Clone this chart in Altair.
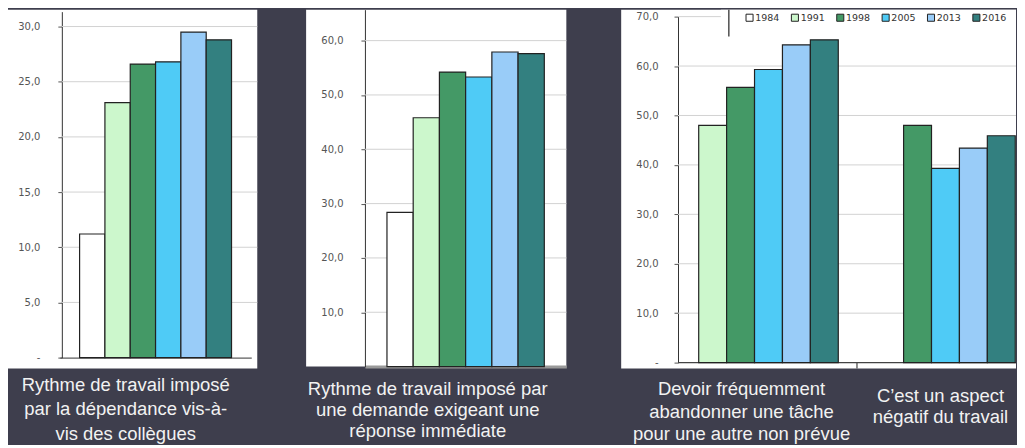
import altair as alt
import pandas as pd

# ---------------- data ----------------
years = ["1984", "1991", "1998", "2005", "2013", "2016"]
year_colors = ["#ffffff", "#ccf7cc", "#449966", "#4fcbf6", "#99ccf8", "#338080"]

p1_values = [11.2, 23.1, 26.6, 26.8, 29.5, 28.8]
p1_caption = ["Rythme de travail imposé", "par la dépendance vis-à-", "vis des collègues"]
p1_ticks = [0, 5, 10, 15, 20, 25, 30]

p2_values = [28.4, 45.8, 54.2, 53.3, 57.9, 57.6]
p2_caption = ["Rythme de travail imposé par", "une demande exigeant une", "réponse immédiate"]
p2_ticks = [10, 20, 30, 40, 50, 60]

p3_categories = ["abandon", "negatif"]
p3_captions = [
    ["Devoir fréquemment", "abandonner une tâche", "pour une autre non prévue"],
    ["C\u2019est un aspect", "négatif du travail"],
]
p3_years = ["1991", "1998", "2005", "2013", "2016"]
p3_abandon = [48.0, 55.7, 59.3, 64.3, 65.3]
p3_negatif = [None, 48.0, 39.3, 43.4, 45.9]
p3_ticks = [0, 10, 20, 30, 40, 50, 60, 70]

# ---------------- styles ----------------
LABEL_EXPR = "datum.value == 0 ? '-' : replace(format(datum.value, '.1f'), '.', ',')"
GRID_COLOR = "#d2d2d2"
BAR_STROKE = "#222222"
CAPTION = dict(font="Liberation Sans", fontSize=18.5, color="#f2f2f2",
               lineBreak="\n", align="center", baseline="alphabetic")

color_scale = alt.Scale(domain=years, range=year_colors)


def y_axis(ticks, axis_x, pad):
    return alt.Axis(values=ticks, labelExpr=LABEL_EXPR, grid=False, offset=-axis_x,
                    tickSize=4, tickColor="#555555", domainColor="#333333", domainWidth=1,
                    labelFont="DejaVu Sans", labelFontSize=10, labelColor="#555555",
                    labelPadding=pad, title=None)


def grid_layer(ticks, yscale, yaxis, x0, x1):
    gdf = pd.DataFrame({"value": [t for t in ticks if t != 0]})
    return alt.Chart(gdf).mark_rule(color=GRID_COLOR, strokeWidth=1).encode(
        y=alt.Y("value:Q", scale=yscale, axis=yaxis),
        x=alt.value(x0), x2=alt.value(x1))


def caption_layer(lines, cx, cy, lh):
    cdf = pd.DataFrame({"t": ["\n".join(lines)]})
    return alt.Chart(cdf).mark_text(lineHeight=lh, **CAPTION).encode(
        text="t:N", x=alt.value(cx), y=alt.value(cy))


# ---------------- panel 1 ----------------
W1, H1 = 250, 360
df1 = pd.DataFrame({"cat": ["c"] * 6, "year": years, "value": p1_values})
y1s = alt.Scale(domain=[0, 31.35], range=[349, 2], nice=False, zero=False)
y1a = y_axis(p1_ticks, 54, 18)
x1s = alt.Scale(range=[52, 244], paddingInner=0, paddingOuter=0.13)
bars1 = alt.Chart(df1).mark_bar(stroke=BAR_STROKE, strokeWidth=1.2).encode(
    x=alt.X("cat:N", scale=x1s, axis=alt.Axis(labels=False, ticks=False, title=None,
                                              domainColor="#333333", offset=-11)),
    xOffset=alt.XOffset("year:N", scale=alt.Scale(domain=years, paddingInner=0, paddingOuter=0)),
    y=alt.Y("value:Q", scale=y1s, axis=y1a),
    color=alt.Color("year:N", scale=color_scale, legend=None),
)
panel1 = alt.layer(
    grid_layer(p1_ticks, y1s, y1a, 54, W1),
    bars1,
    caption_layer(p1_caption, 118, 382, 25),
).properties(width=W1, height=H1)

# ---------------- panel 2 ----------------
W2, H2 = 261, 358
df2 = pd.DataFrame({"cat": ["c"] * 6, "year": years, "value": p2_values})
y2s = alt.Scale(domain=[0, 65.7], range=[358, 0], nice=False, zero=False)
y2a = y_axis(p2_ticks, 59, 18)
x2s = alt.Scale(range=[59, 261], paddingInner=0, paddingOuter=0.14)
bars2 = alt.Chart(df2).mark_bar(stroke=BAR_STROKE, strokeWidth=1.2).encode(
    x=alt.X("cat:N", scale=x2s, axis=alt.Axis(labels=False, ticks=False, title=None,
                                              domainColor="#999999", domainWidth=3)),
    xOffset=alt.XOffset("year:N", scale=alt.Scale(domain=years, paddingInner=0, paddingOuter=0)),
    y=alt.Y("value:Q", scale=y2s, axis=y2a),
    color=alt.Color("year:N", scale=color_scale, legend=None),
)
panel2 = alt.layer(
    grid_layer(p2_ticks, y2s, y2a, 59, W2),
    bars2,
    caption_layer(p2_caption, 122, 386, 21.5),
).properties(width=W2, height=H2)

# ---------------- panel 3 ----------------
W3, H3 = 396, 360
rows = []
for cat, vals in zip(p3_categories, [p3_abandon, p3_negatif]):
    for y, v in zip(p3_years, vals):
        if v is not None:
            rows.append({"cat": cat, "year": y, "value": v})
df3 = pd.DataFrame(rows)
y3s = alt.Scale(domain=[0, 70], range=[354, 7], nice=False, zero=False)
y3a = y_axis(p3_ticks, 57, 16)
x3s = alt.Scale(domain=p3_categories, range=[59, 414], paddingInner=0, paddingOuter=0)
bars3 = alt.Chart(df3).mark_bar(stroke=BAR_STROKE, strokeWidth=1.2).encode(
    x=alt.X("cat:N", scale=x3s, axis=None),
    xOffset=alt.XOffset("year:N", scale=alt.Scale(domain=p3_years, paddingInner=0, paddingOuter=0.67)),
    y=alt.Y("value:Q", scale=y3s, axis=y3a),
    color=alt.Color("year:N", scale=color_scale,
                    legend=alt.Legend(orient="none", legendX=124, legendY=3, direction="horizontal",
                                      columns=6, title=None, symbolType="square", symbolSize=50,
                                      symbolStrokeColor="#222222", symbolStrokeWidth=1,
                                      labelFont="DejaVu Sans", labelFontSize=9.5, labelColor="#333333",
                                      labelOffset=1, columnPadding=9.5, padding=0)),
)
one = pd.DataFrame({"k": [0]})
legend_bg = alt.Chart(one).mark_rect(color="white").encode(
    x=alt.value(100), x2=alt.value(W3), y=alt.value(0), y2=alt.value(27))
legend_border = alt.Chart(one).mark_rule(color="#222222", strokeWidth=1.2).encode(
    x=alt.value(108), y=alt.value(0), y2=alt.value(27))
baseline3 = alt.Chart(one).mark_rule(color="#444444", strokeWidth=1.2).encode(
    y=alt.Y(datum=0, scale=y3s, axis=y3a), x=alt.value(57), x2=alt.value(W3))
sepdf = pd.DataFrame({"cat": p3_categories[1:]})
separator3 = alt.Chart(sepdf).mark_rule(color="#444444", strokeWidth=1.2).encode(
    x=alt.X("cat:N", scale=x3s, axis=None, bandPosition=0),
    y=alt.value(354), y2=alt.value(360))
capdf = pd.DataFrame({"cat": p3_categories, "t": ["\n".join(c) for c in p3_captions]})
cap3a = alt.Chart(capdf).transform_filter(alt.datum.cat == p3_categories[0]).mark_text(
    lineHeight=22.5, dx=-27, **CAPTION).encode(
    text="t:N", x=alt.X("cat:N", scale=x3s, axis=None), y=alt.value(387))
cap3b = alt.Chart(capdf).transform_filter(alt.datum.cat == p3_categories[1]).mark_text(
    lineHeight=21, dx=-5, **CAPTION).encode(
    text="t:N", x=alt.X("cat:N", scale=x3s, axis=None), y=alt.value(394))
panel3 = alt.layer(
    grid_layer(p3_ticks, y3s, y3a, 57, W3),
    legend_bg,
    legend_border,
    baseline3,
    separator3,
    bars3,
    cap3a,
    cap3b,
).properties(width=W3, height=H3)

# ---------------- composition ----------------
res = dict(x="independent", y="independent", color="independent", xOffset="independent")
inner = alt.hconcat(panel1, panel2, spacing=48).resolve_scale(**res)
chart = alt.hconcat(inner, panel3, spacing=54).resolve_scale(**res).properties(
    background="#3e3e4d", padding=0
).configure_view(fill="white", strokeWidth=0)

chart.save("out.html", embed_options={"renderer": "svg", "actions": False})
